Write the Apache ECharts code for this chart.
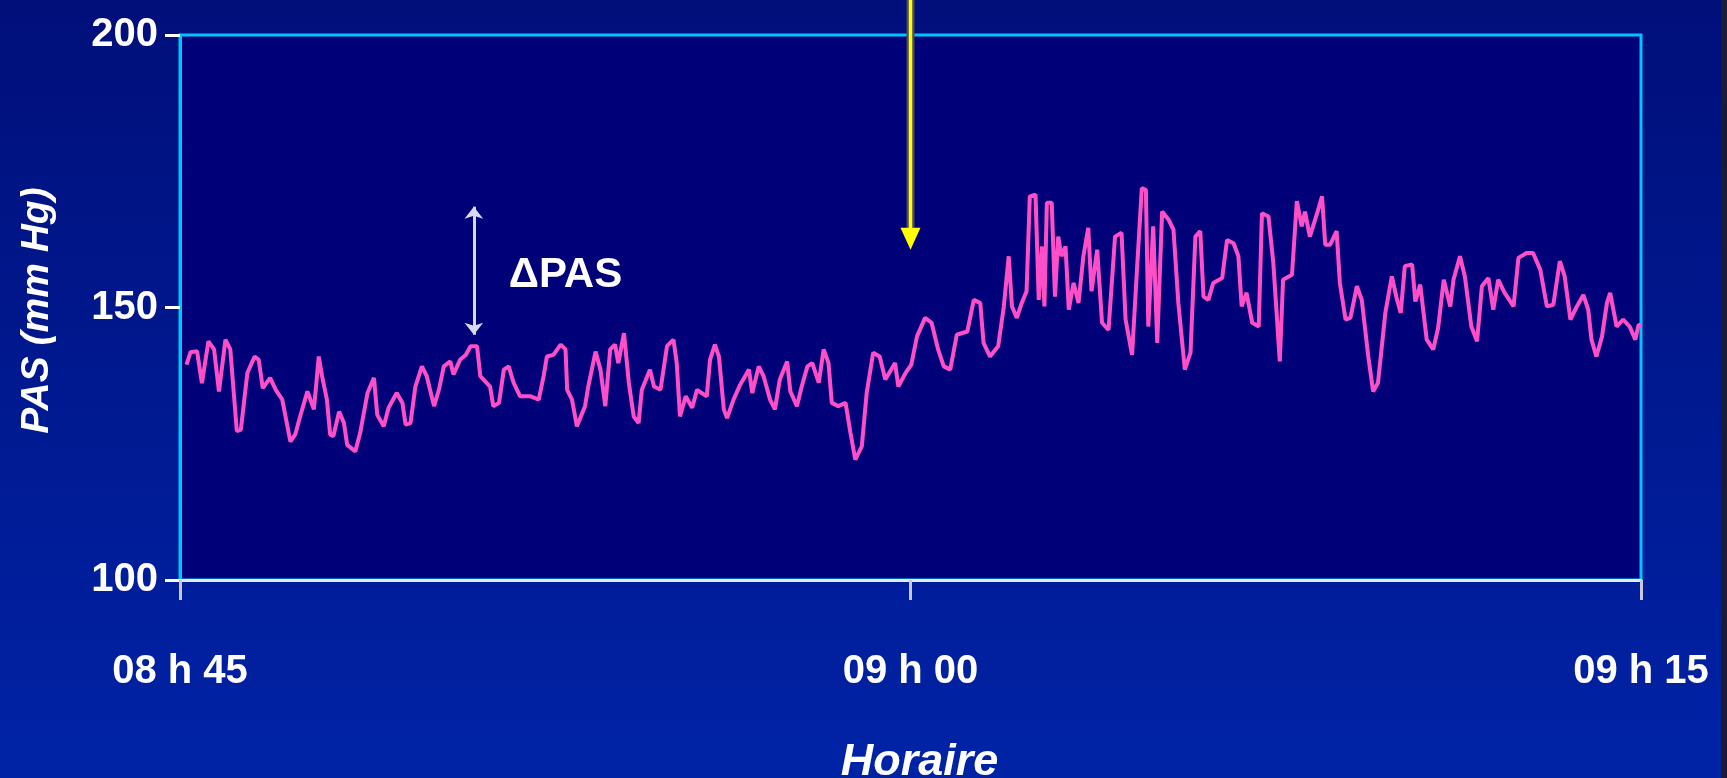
<!DOCTYPE html>
<html>
<head>
<meta charset="utf-8">
<title>PAS - Horaire</title>
<script src="https://cdn.jsdelivr.net/npm/echarts/dist/echarts.min.js"></script>
<style>
  html, body { margin: 0; padding: 0; background: #00168f; }
  #main { width: 1727px; height: 778px; }
</style>
</head>
<body>
<div id="main"></div>
<script>
// temps en secondes depuis 08 h 45
var times = [
  8, 13, 21, 27, 35, 42, 48, 56, 62, 70, 75, 83, 92, 97, 102, 111, 118, 126, 136, 142,
  148, 157, 165, 171, 175, 181, 185, 189, 196, 202, 206, 216, 222, 231, 239, 243, 251, 257, 267, 274,
  278, 284, 290, 298,
  304, 313, 319, 325, 333, 337, 345, 352, 358, 366, 370, 382, 386, 393, 399, 405, 411, 419, 432, 442,
  448, 452, 460, 469, 475, 477, 483, 489, 499, 503, 512, 518, 524, 530, 536, 540, 547, 553, 559, 565,
  569, 579, 584, 592, 600,
  608, 612, 616, 623, 631, 637, 649, 653, 659, 664, 670, 674, 682, 690, 701, 705, 713, 719, 727, 733,
  739, 748, 752, 760, 766, 773, 779, 787, 793, 799, 803, 811, 820, 826, 832, 840, 846, 854, 862, 869,
  881, 885, 894, 901,
  908, 918, 926, 934, 941, 949, 957, 970, 978, 986, 990, 998, 1008, 1015, 1021, 1025, 1031, 1037, 1043, 1047,
  1054, 1058, 1062, 1065, 1068, 1074, 1078, 1082, 1086, 1091, 1095, 1101, 1107, 1113, 1119, 1123, 1130, 1136, 1144, 1152,
  1160, 1165, 1173, 1179, 1185, 1190, 1193, 1199, 1204,
  1210, 1218, 1224, 1230, 1238, 1245, 1251, 1257, 1261, 1267, 1273, 1284, 1290, 1298, 1304, 1308, 1314, 1321, 1329, 1333,
  1341, 1347, 1355, 1359, 1370, 1376, 1382, 1386, 1392, 1401, 1407, 1411, 1417, 1425, 1429, 1436, 1442, 1450, 1456, 1464,
  1470, 1476, 1485, 1493, 1499, 1504, 1509,
  1518, 1522, 1528, 1536, 1544, 1550, 1557, 1565, 1569, 1577, 1583, 1591, 1598, 1604, 1612, 1618, 1624, 1632, 1643, 1649,
  1659, 1667, 1676, 1684, 1692, 1700, 1706, 1713, 1721, 1729, 1735, 1739, 1745, 1752, 1758, 1762, 1770, 1778, 1786, 1793,
  1797, 1800
];

// PAS (mm Hg)
var pasValues = [
  139.5, 141.8, 142.0, 136.1, 143.8, 142.3, 134.6, 144.1, 142.3, 127.3, 127.6, 138.0, 141.0, 140.4, 135.2, 137.1, 134.9, 133.1, 125.4, 126.7,
  130.0, 134.6, 131.3, 141.0, 137.4, 133.1, 126.7, 126.4, 130.9, 128.8, 124.8, 123.6, 127.0, 134.3, 137.1, 130.3, 128.2, 131.6, 134.3, 132.5,
  128.5, 128.8, 135.5, 139.2,
  137.4, 131.9, 134.9, 139.2, 140.1, 137.7, 140.4, 141.3, 142.9, 142.9, 137.4, 135.5, 131.9, 132.5, 138.6, 139.2, 136.2, 133.7, 133.7, 133.1,
  137.4, 141.0, 141.3, 143.2, 142.3, 134.9, 133.1, 128.2, 131.9, 135.5, 141.9, 138.6, 131.9, 142.3, 143.2, 139.8, 145.3, 136.2, 130.0, 128.8,
  134.9, 138.6, 135.5, 134.9, 142.9,
  144.1, 139.8, 130.0, 133.7, 131.6, 134.9, 133.7, 140.4, 143.2, 141.0, 131.3, 129.7, 133.1, 135.8, 138.6, 134.3, 139.2, 137.4, 133.1, 131.3,
  136.8, 140.1, 134.6, 131.9, 135.5, 139.2, 139.8, 136.2, 142.3, 139.8, 132.5, 131.9, 132.5, 127.0, 122.1, 124.5, 134.3, 141.7, 141.0, 136.8,
  139.8, 135.5, 138.0, 139.5,
  144.7, 148.1, 147.2, 142.3, 139.2, 138.6, 145.0, 145.6, 151.4, 150.8, 143.5, 141.0, 142.9, 150.2, 159.4, 150.2, 148.1, 150.8, 153.0, 170.4,
  170.7, 151.4, 161.2, 150.2, 169.2, 169.2, 152.0, 163.0, 159.4, 161.2, 149.6, 154.5, 150.8, 159.4, 164.6, 153.0, 160.6, 147.2, 145.9, 163.0,
  163.7, 147.8, 141.3, 156.9, 171.9, 171.6, 146.5, 164.9, 143.5,
  167.6, 166.1, 164.3, 150.8, 138.6, 141.7, 163.0, 164.0, 152.0, 151.4, 154.5, 155.4, 162.4, 161.8, 159.4, 150.2, 152.7, 147.2, 146.5, 167.3,
  166.7, 158.2, 140.1, 155.1, 156.0, 169.5, 164.9, 167.6, 163.0, 167.3, 170.4, 161.5, 161.5, 164.0, 154.5, 147.8, 148.1, 153.9, 151.4, 141.0,
  134.6, 136.2, 149.0, 155.7, 151.7, 149.0, 157.6,
  157.9, 151.1, 154.2, 144.1, 142.3, 146.2, 155.1, 150.2, 155.1, 159.4, 155.7, 146.5, 143.8, 153.9, 155.4, 149.6, 155.1, 152.7, 150.2, 159.1,
  160.0, 160.0, 156.9, 150.2, 150.5, 158.5, 155.7, 147.8, 150.2, 152.3, 149.6, 144.1, 141.0, 144.7, 150.8, 152.7, 146.5, 147.8, 146.5, 144.1,
  146.8, 146.8
];

var xTickLabels = ['08 h 45', '09 h 00', '09 h 15'];

// annotations : fleche delta PAS et fleche jaune (09 h 00)
var deltaArrow = [[362, 168.5], [362, 145.0]];
var deltaLabelAt = [405, 155.8];
var yellowTip = [900, 160.6];

var fontFam = '"Liberation Sans", Arial, Helvetica, sans-serif';

var seriesData = [];
for (var i = 0; i < times.length; i++) {
  seriesData.push([times[i], pasValues[i]]);
}

var chart = echarts.init(document.getElementById('main'));

var option = {
  animation: false,
  backgroundColor: new echarts.graphic.LinearGradient(0, 0, 0, 1, [
    { offset: 0, color: '#000f7a' },
    { offset: 1, color: '#0023a6' }
  ]),
  textStyle: { fontFamily: fontFam },
  grid: {
    left: 180,
    right: 86,
    top: 35,
    bottom: 198,
    outerBoundsMode: 'none',
    show: true,
    backgroundColor: '#000078',
    borderColor: '#00c4ff',
    borderWidth: 3
  },
  xAxis: {
    type: 'value',
    min: 0,
    max: 1800,
    interval: 900,
    name: 'Horaire',
    nameLocation: 'middle',
    nameGap: 160,
    nameTextStyle: {
      color: '#ffffff',
      fontSize: 45,
      lineHeight: 45,
      fontWeight: 'bold',
      fontStyle: 'italic',
      fontFamily: fontFam,
      padding: [0, 0, 0, 18]
    },
    axisLine: { onZero: false, lineStyle: { color: '#e8e8f6', width: 3 } },
    axisTick: { length: 20, lineStyle: { color: '#c8c8e0', width: 3 } },
    axisLabel: {
      color: '#ffffff',
      fontSize: 40,
      fontWeight: 'bold',
      fontFamily: fontFam,
      margin: 72,
      formatter: function (v) { return xTickLabels[Math.round(v / 900)]; }
    },
    splitLine: { show: false }
  },
  yAxis: {
    type: 'value',
    min: 100,
    max: 200,
    interval: 50,
    name: 'PAS (mm Hg)',
    nameLocation: 'middle',
    nameRotate: 90,
    nameGap: 123,
    nameTextStyle: {
      color: '#ffffff',
      fontSize: 39,
      lineHeight: 40,
      fontWeight: 'bold',
      fontStyle: 'italic',
      fontFamily: fontFam,
      padding: [0, 6, 0, 0]
    },
    axisLine: { show: true, lineStyle: { color: '#00c4ff', width: 3 } },
    axisTick: { show: true, length: 15, lineStyle: { color: '#ffffff', width: 3 } },
    axisLabel: {
      color: '#ffffff',
      fontSize: 40,
      fontWeight: 'bold',
      fontFamily: fontFam,
      margin: 22
    },
    splitLine: { show: false }
  },
  series: [{
    type: 'line',
    data: seriesData,
    showSymbol: false,
    clip: false,
    lineStyle: { color: '#ff4fc8', width: 4 },
    markLine: {
      silent: true,
      symbol: ['arrow', 'arrow'],
      symbolSize: [14, 12],
      label: { show: false },
      lineStyle: { color: '#d8d8f0', width: 3, type: 'solid' },
      data: [[{ coord: deltaArrow[0] }, { coord: deltaArrow[1] }]]
    },
    markPoint: {
      silent: true,
      symbol: 'rect',
      symbolSize: 0,
      label: {
        show: true,
        position: 'right',
        distance: 0,
        formatter: 'ΔPAS',
        color: '#ffffff',
        fontSize: 42,
        fontWeight: 'bold',
        fontFamily: fontFam
      },
      data: [{ coord: deltaLabelAt }]
    }
  }]
};

chart.setOption(option);

// fleche jaune, du haut de l'image jusqu'a la pointe
var tip = chart.convertToPixel({ gridIndex: 0 }, yellowTip);
chart.setOption({
  graphic: [
    {
      type: 'line',
      silent: true,
      shape: { x1: tip[0], y1: 0, x2: tip[0], y2: tip[1] - 22 },
      style: { stroke: '#4c4c5c', lineWidth: 8 }
    },
    {
      type: 'line',
      silent: true,
      shape: { x1: tip[0], y1: 0, x2: tip[0], y2: tip[1] - 12 },
      style: { stroke: '#ffff00', lineWidth: 3.5 }
    },
    {
      type: 'polygon',
      silent: true,
      shape: { points: [[tip[0] - 10, tip[1] - 22], [tip[0] + 10, tip[1] - 22], [tip[0], tip[1]]] },
      style: { fill: '#ffff00' }
    },
    {
      type: 'rect',
      silent: true,
      right: 0,
      top: 0,
      shape: { width: 6, height: 778 },
      style: { fill: '#1b1b33' }
    }
  ]
});
</script>
</body>
</html>
